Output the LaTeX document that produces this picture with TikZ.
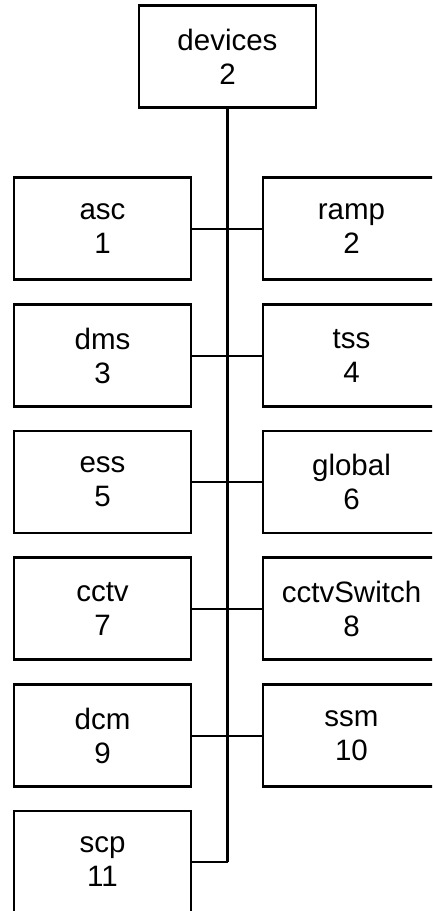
\documentclass[tikz,border=0pt]{standalone}
\usepackage{fontspec}
\setmainfont{Liberation Sans}

\begin{document}
\begin{tikzpicture}[x=1pt,y=-1pt]
\tikzstyle{every node}+=[inner sep=0pt]
\tikzstyle{devbox}=[draw=black,line width=2.4pt,minimum width=177pt,minimum height=102pt,align=center,font=\fontsize{29.5}{34}\selectfont]
\tikzstyle{trunk}=[black,line width=3.4pt]
\tikzstyle{branch}=[black,line width=2pt]
\useasboundingbox (0,0) rectangle (432,911);
\clip (0,0) rectangle (432,911);
\node [devbox] (devices) at (227.5,56.5) {devices\\2};
\node [devbox] (asc) at (102.5,228.5) {asc\\1};
\node [devbox] (ramp) at (351.5,228.5) {ramp\\2};
\node [devbox] (dms) at (102.5,355.5) {dms\\3};
\node [devbox] (tss) at (351.5,355.5) {tss\\4};
\node [devbox] (ess) at (102.5,482) {ess\\5};
\node [devbox] (global) at (351.5,482) {global\\6};
\node [devbox] (cctv) at (102.5,608.5) {cctv\\7};
\node [devbox] (cctvSwitch) at (351.5,608.5) {cctvSwitch\\8};
\node [devbox] (dcm) at (102.5,735.5) {dcm\\9};
\node [devbox] (ssm) at (351.5,735.5) {ssm\\10};
\node [devbox] (scp) at (102.5,862) {scp\\11};
\coordinate (bottom) at (devices.south |- scp.east);
\draw [branch] (asc.east) -- (ramp.west);
\draw [branch] (dms.east) -- (tss.west);
\draw [branch] (ess.east) -- (global.west);
\draw [branch] (cctv.east) -- (cctvSwitch.west);
\draw [branch] (dcm.east) -- (ssm.west);
\draw [branch] (scp.east) -- (bottom);
\draw [trunk] (devices.south) -- (bottom);
\end{tikzpicture}
\end{document}
